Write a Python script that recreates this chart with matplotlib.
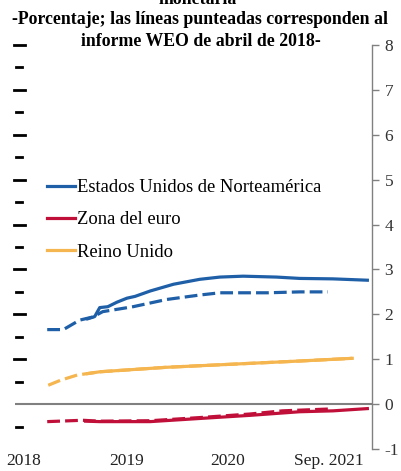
import numpy as np
import matplotlib
matplotlib.use('Agg')
import matplotlib.pyplot as plt
import matplotlib.transforms as mtransforms

plt.rcParams['font.family'] = ['Liberation Serif', 'DejaVu Serif']
plt.rcParams['axes.unicode_minus'] = False

# x en "años" desde 2018 (posiciones de las etiquetas abajo)
tick_pos = [0.0, 1.02, 2.02, 3.02]
tick_lbl = ['2018', '2019', '2020', 'Sep. 2021']

# Estados Unidos: curva actual (sólida) y WEO abril 2018 (punteada)
us_x = [0.63, 0.70, 0.75, 0.83, 0.92, 1.02, 1.10, 1.25, 1.48, 1.74, 1.94, 2.17, 2.50, 2.73, 3.06, 3.40]
us_y = [1.90, 1.95, 2.15, 2.17, 2.27, 2.36, 2.40, 2.52, 2.67, 2.78, 2.83, 2.85, 2.83, 2.80, 2.79, 2.76]
us_weo_x = [0.23, 0.39, 0.55, 0.68, 0.78, 1.08, 1.41, 1.74, 1.94, 2.41, 2.73, 3.01]
us_weo_y = [1.66, 1.66, 1.87, 1.94, 2.06, 2.17, 2.33, 2.43, 2.48, 2.48, 2.50, 2.50]

# Zona del euro
ez_x = [0.61, 0.75, 1.25, 1.74, 2.24, 2.73, 3.06, 3.40]
ez_y = [-0.38, -0.39, -0.39, -0.32, -0.25, -0.17, -0.15, -0.10]
ez_weo_x = [0.23, 0.58, 0.75, 1.25, 1.74, 2.24, 2.56, 3.01]
ez_weo_y = [-0.39, -0.36, -0.38, -0.37, -0.30, -0.22, -0.15, -0.11]

# Reino Unido
uk_x = [0.63, 0.75, 1.41, 2.07, 2.73, 3.25]
uk_y = [0.68, 0.72, 0.82, 0.89, 0.96, 1.02]
uk_weo_x = [0.24, 0.36, 0.53, 0.63, 0.75, 1.41, 2.07, 2.73, 3.25]
uk_weo_y = [0.42, 0.53, 0.65, 0.68, 0.72, 0.82, 0.89, 0.96, 1.02]

blue = '#1f5fa8'
red = '#c0103a'
orange = '#f5b54f'

fig = plt.figure(figsize=(4.01, 4.71), dpi=100)
ax = fig.add_axes([15/401, 1-449/471, (372-15)/401, (449-45)/471])

ax.axhline(0, color='#808080', lw=1.5, zorder=1)

ax.plot(us_x, us_y, color=blue, lw=2.3, label='Estados Unidos de Norteamérica', zorder=3)
ax.plot(ez_x, ez_y, color=red, lw=2.3, label='Zona del euro', zorder=3)
ax.plot(uk_x, uk_y, color=orange, lw=2.3, label='Reino Unido', zorder=3)
dash = (0, (4, 1.6))
ax.plot(us_weo_x, us_weo_y, color=blue, lw=2.3, ls=dash, zorder=2)
ax.plot(ez_weo_x, ez_weo_y, color=red, lw=2.3, ls=dash, zorder=2)
ax.plot(uk_weo_x, uk_weo_y, color=orange, lw=2.3, ls=dash, zorder=2)

ax.set_xlim(-0.089, 3.446)
ax.set_ylim(-1, 8)

for s in ['top', 'left', 'bottom']:
    ax.spines[s].set_visible(False)
ax.spines['right'].set_color('#808080')
ax.spines['right'].set_linewidth(1.0)
ax.yaxis.tick_right()
ax.set_yticks(range(-1, 9))
ax.tick_params(axis='y', direction='out', length=5, width=1, color='#808080',
               labelsize=12.5, labelcolor='#333333', pad=4)
ax.set_xticks(tick_pos)
ax.set_xticklabels(tick_lbl)
ax.tick_params(axis='x', length=0, labelsize=12.5, labelcolor='#222222', pad=3)

# marcas sueltas del margen izquierdo
trans = mtransforms.blended_transform_factory(ax.transAxes, ax.transData)
for v in np.arange(-0.5, 8.01, 0.5):
    if v == 0:
        continue
    if v == int(v):
        ax.plot([-0.003, 0.028], [v, v], color='black', lw=2, transform=trans, clip_on=False)
    else:
        ax.plot([0.002, 0.020], [v, v], color='black', lw=2, transform=trans, clip_on=False)

ax.legend(loc='upper left', bbox_to_anchor=(47/401, 1-179/471), bbox_transform=fig.transFigure,
          frameon=False, fontsize=13.4, handlelength=1.5, handletextpad=0.12,
          labelspacing=0.82, borderaxespad=0, borderpad=0)

fig.text(0.5, 1+1/471, 'monetaria-', ha='center', va='center', fontsize=12.8, fontweight='bold')
fig.text(0.5, 1-19/471, '-Porcentaje; las líneas punteadas corresponden al', ha='center',
         va='center', fontsize=12.8, fontweight='bold')
fig.text(0.5, 1-42/471, 'informe WEO de abril de 2018-', ha='center', va='center',
         fontsize=12.8, fontweight='bold')

fig.savefig('out.png', dpi=100)
